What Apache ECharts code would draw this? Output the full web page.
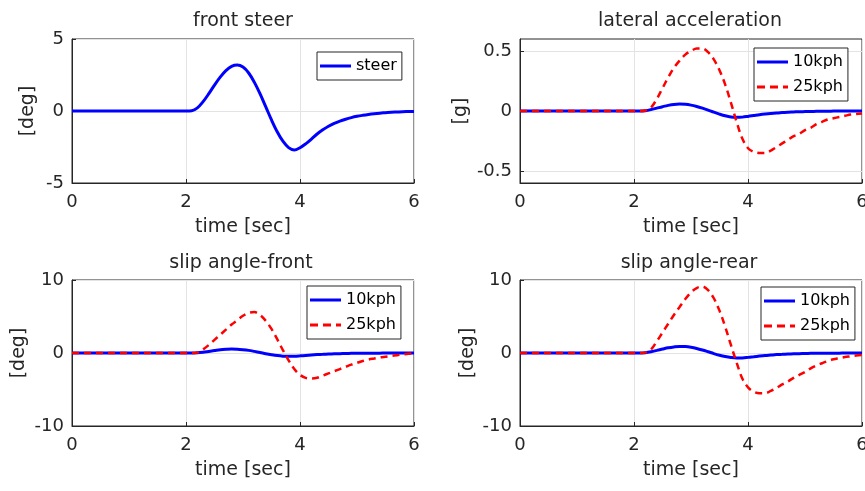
<!DOCTYPE html>
<html><head><meta charset="utf-8">
<script src="https://cdn.jsdelivr.net/npm/echarts@6/dist/echarts.min.js"></script>
<style>html,body{margin:0;padding:0;background:#fff}#c{width:865px;height:491px}</style>
</head><body><div id="c"></div>
<script>
// ---- data ----
const time = [0,0.1,0.2,0.3,0.4,0.5,0.6,0.7,0.8,0.9,1,1.1,1.2,1.3,1.4,1.5,1.6,1.7,1.8,1.9,2,
  2.1,2.2,2.3,2.4,2.5,2.6,2.7,2.8,2.9,3,3.1,3.2,3.3,3.4,3.5,3.6,3.7,3.8,3.9,4,
  4.1,4.2,4.3,4.4,4.5,4.6,4.7,4.8,4.9,5,5.1,5.2,5.3,5.4,5.5,5.6,5.7,5.8,5.9,6];
const steer = [0,0,0,0,0,0,0,0,0,0,0,0,0,0,0,0,0,0,0,0,0,
  0.02,0.22,0.65,1.20,1.80,2.35,2.80,3.10,3.19,3.05,2.64,1.99,1.19,0.29,-0.62,-1.44,-2.10,-2.54,-2.71,-2.55,
  -2.28,-1.95,-1.60,-1.31,-1.06,-0.86,-0.70,-0.57,-0.46,-0.37,-0.30,-0.24,-0.19,-0.15,-0.12,-0.09,-0.07,-0.05,-0.04,-0.03];
const latAcc10 = [0,0,0,0,0,0,0,0,0,0,0,0,0,0,0,0,0,0,0,0,0,
  0,0.003,0.012,0.024,0.036,0.047,0.055,0.058,0.056,0.049,0.038,0.024,0.008,-0.010,-0.026,-0.040,-0.050,-0.053,-0.051,-0.045,
  -0.038,-0.031,-0.025,-0.020,-0.016,-0.013,-0.010,-0.008,-0.006,-0.005,-0.004,-0.003,-0.002,-0.002,-0.001,-0.001,-0.001,0,0,0];
const latAcc25 = [0,0,0,0,0,0,0,0,0,0,0,0,0,0,0,0,0,0,0,0,0,
  0,0.004,0.03,0.10,0.19,0.28,0.36,0.42,0.47,0.50,0.52,0.52,0.49,0.43,0.34,0.22,0.07,-0.09,-0.23,-0.31,
  -0.34,-0.35,-0.35,-0.33,-0.30,-0.27,-0.24,-0.21,-0.19,-0.16,-0.14,-0.11,-0.09,-0.07,-0.06,-0.05,-0.04,-0.03,-0.025,-0.02];
const slipF10 = [0,0,0,0,0,0,0,0,0,0,0,0,0,0,0,0,0,0,0,0,0,
  0,0.03,0.11,0.22,0.33,0.44,0.51,0.55,0.53,0.46,0.36,0.22,0.07,-0.09,-0.23,-0.35,-0.43,-0.46,-0.44,-0.39,
  -0.33,-0.27,-0.22,-0.18,-0.14,-0.11,-0.09,-0.07,-0.05,-0.04,-0.03,-0.03,-0.02,-0.02,-0.01,-0.01,-0.01,0,0,0];
const slipF25 = [0,0,0,0,0,0,0,0,0,0,0,0,0,0,0,0,0,0,0,0,0,
  0,0.05,0.5,1.1,1.8,2.5,3.2,3.9,4.5,5.1,5.5,5.6,5.2,4.4,3.3,1.9,0.4,-1.0,-2.2,-3.0,
  -3.4,-3.5,-3.4,-3.1,-2.8,-2.5,-2.2,-1.9,-1.6,-1.35,-1.1,-0.9,-0.75,-0.6,-0.5,-0.4,-0.3,-0.2,-0.1,-0.05];
const slipR10 = [0,0,0,0,0,0,0,0,0,0,0,0,0,0,0,0,0,0,0,0,0,
  0,0.05,0.18,0.36,0.54,0.71,0.83,0.90,0.88,0.78,0.62,0.41,0.17,-0.08,-0.30,-0.48,-0.61,-0.68,-0.67,-0.60,
  -0.51,-0.42,-0.34,-0.28,-0.22,-0.18,-0.14,-0.11,-0.09,-0.07,-0.05,-0.04,-0.03,-0.03,-0.02,-0.02,-0.01,-0.01,-0.01,0];
const slipR25 = [0,0,0,0,0,0,0,0,0,0,0,0,0,0,0,0,0,0,0,0,0,
  0,0.05,0.5,1.6,2.8,4.0,5.2,6.3,7.4,8.3,8.9,9.1,8.6,7.5,5.8,3.6,1.1,-1.3,-3.5,-4.7,
  -5.3,-5.5,-5.5,-5.2,-4.8,-4.3,-3.9,-3.4,-3.0,-2.6,-2.1,-1.7,-1.4,-1.1,-0.85,-0.7,-0.55,-0.45,-0.35,-0.28];
const titles = ['front steer','lateral acceleration','slip angle-front','slip angle-rear'];
const yNames = ['[deg]','[g]','[deg]','[deg]'];
const xName = 'time [sec]';
const xTicks = [0,2,4,6];
const yTicks = [[-5,0,5],[-0.5,0,0.5],[-10,0,10],[-10,0,10]];
const yRanges = [[-5,5],[-0.6,0.6],[-10,10],[-10,10]];

// ---- layout / style ----
const FONT = 'DejaVu Sans';
const TXT = '#262626';
const GRIDC = '#e3e3e3';
const grids = [
  {left:72, top:39, width:342, height:144},
  {left:520, top:39, width:342, height:144},
  {left:72, top:280, width:342, height:146},
  {left:520, top:280, width:342, height:146}
];
const yNameGaps = [34, 49, 43, 42];
const titlePos = [[243,21],[690,21],[241,263],[689,263]];
const legendPos = [
  {left:317, top:52},
  {left:754, top:48},
  {left:307, top:286},
  {left:761, top:287}
];
const solidIcon = 'path://M0,0H31V3H0Z';
const dashIcon = 'path://M0,0H8V3H0Z M13,0H21V3H13Z M26,0H31V3H26Z';

const option = {
  backgroundColor:'#fff',
  animation:false,
  grid: grids.map(g => Object.assign({show:true, borderColor:TXT, borderWidth:1, containLabel:false, outerBoundsMode:'none'}, g)),
  xAxis: grids.map((g,i) => ({
    type:'value', gridIndex:i, min:xTicks[0], max:xTicks[xTicks.length-1], interval:2,
    name:xName, nameLocation:'middle', nameGap:35,
    nameTextStyle:{fontFamily:FONT, fontSize:19, color:TXT},
    axisLine:{show:true, onZero:false, lineStyle:{color:TXT, width:1}},
    axisTick:{show:true, inside:true, length:4, lineStyle:{color:TXT}},
    axisLabel:{fontFamily:FONT, fontSize:18, color:TXT, margin:10, hideOverlap:false},
    splitLine:{show:true, lineStyle:{color:GRIDC, width:1}}
  })),
  yAxis: grids.map((g,i) => ({
    type:'value', gridIndex:i, min:yRanges[i][0], max:yRanges[i][1],
    axisLabel:{fontFamily:FONT, fontSize:18, color:TXT, margin:8, customValues:yTicks[i]},
    axisTick:{show:true, inside:true, length:4, lineStyle:{color:TXT}, customValues:yTicks[i]},
    name:yNames[i], nameLocation:'middle', nameRotate:90, nameGap:yNameGaps[i],
    nameTextStyle:{fontFamily:FONT, fontSize:19, color:TXT},
    axisLine:{show:true, onZero:false, lineStyle:{color:TXT, width:1}},
    splitLine:{show:true, lineStyle:{color:GRIDC, width:1}}
  })),
  graphic: titles.map((t,i) => ({
    type:'text', x:titlePos[i][0], y:titlePos[i][1],
    style:{text:t, fill:TXT, font:'19px "'+FONT+'"', textAlign:'center', textVerticalAlign:'middle'}
  })),
  legend: legendPos.map((p,i) => ({
    left:p.left, top:p.top, orient:'vertical',
    data: i===0 ? [{name:'steer', icon:solidIcon}]
                : [{name:'10kph', icon:solidIcon}, {name:'25kph', icon:dashIcon}],
    itemWidth:31, itemHeight:3, itemGap:9, symbolKeepAspect:false,
    padding:[6,5,6,3],
    borderColor:TXT, borderWidth:1, backgroundColor:'#fff',
    textStyle:{fontFamily:FONT, fontSize:16, color:'#000'},
    selectedMode:false
  })),
  series: []
};

function zip(ys){ return time.map((t,k)=>[t, ys[k]]); }
const blueStyle = {color:'#0000ff', width:3, type:'solid'};
const redStyle = {color:'#ff0000', width:2.5, type:[7,5]};
const panels = [
  [['steer', steer, blueStyle]],
  [['10kph', latAcc10, blueStyle], ['25kph', latAcc25, redStyle]],
  [['10kph', slipF10, blueStyle], ['25kph', slipF25, redStyle]],
  [['10kph', slipR10, blueStyle], ['25kph', slipR25, redStyle]]
];
panels.forEach((pan,i) => {
  pan.forEach((s,j) => {
    option.series.push({
      type:'line', name:s[0], xAxisIndex:i, yAxisIndex:i, data:zip(s[1]),
      symbol:'none', smooth:0.35, lineStyle:s[2], itemStyle:{color:s[2].color},
      z: 3+j
    });
  });
});
const chart = echarts.init(document.getElementById('c'), null, {renderer:'canvas'});
chart.setOption(option);
</script></body></html>
